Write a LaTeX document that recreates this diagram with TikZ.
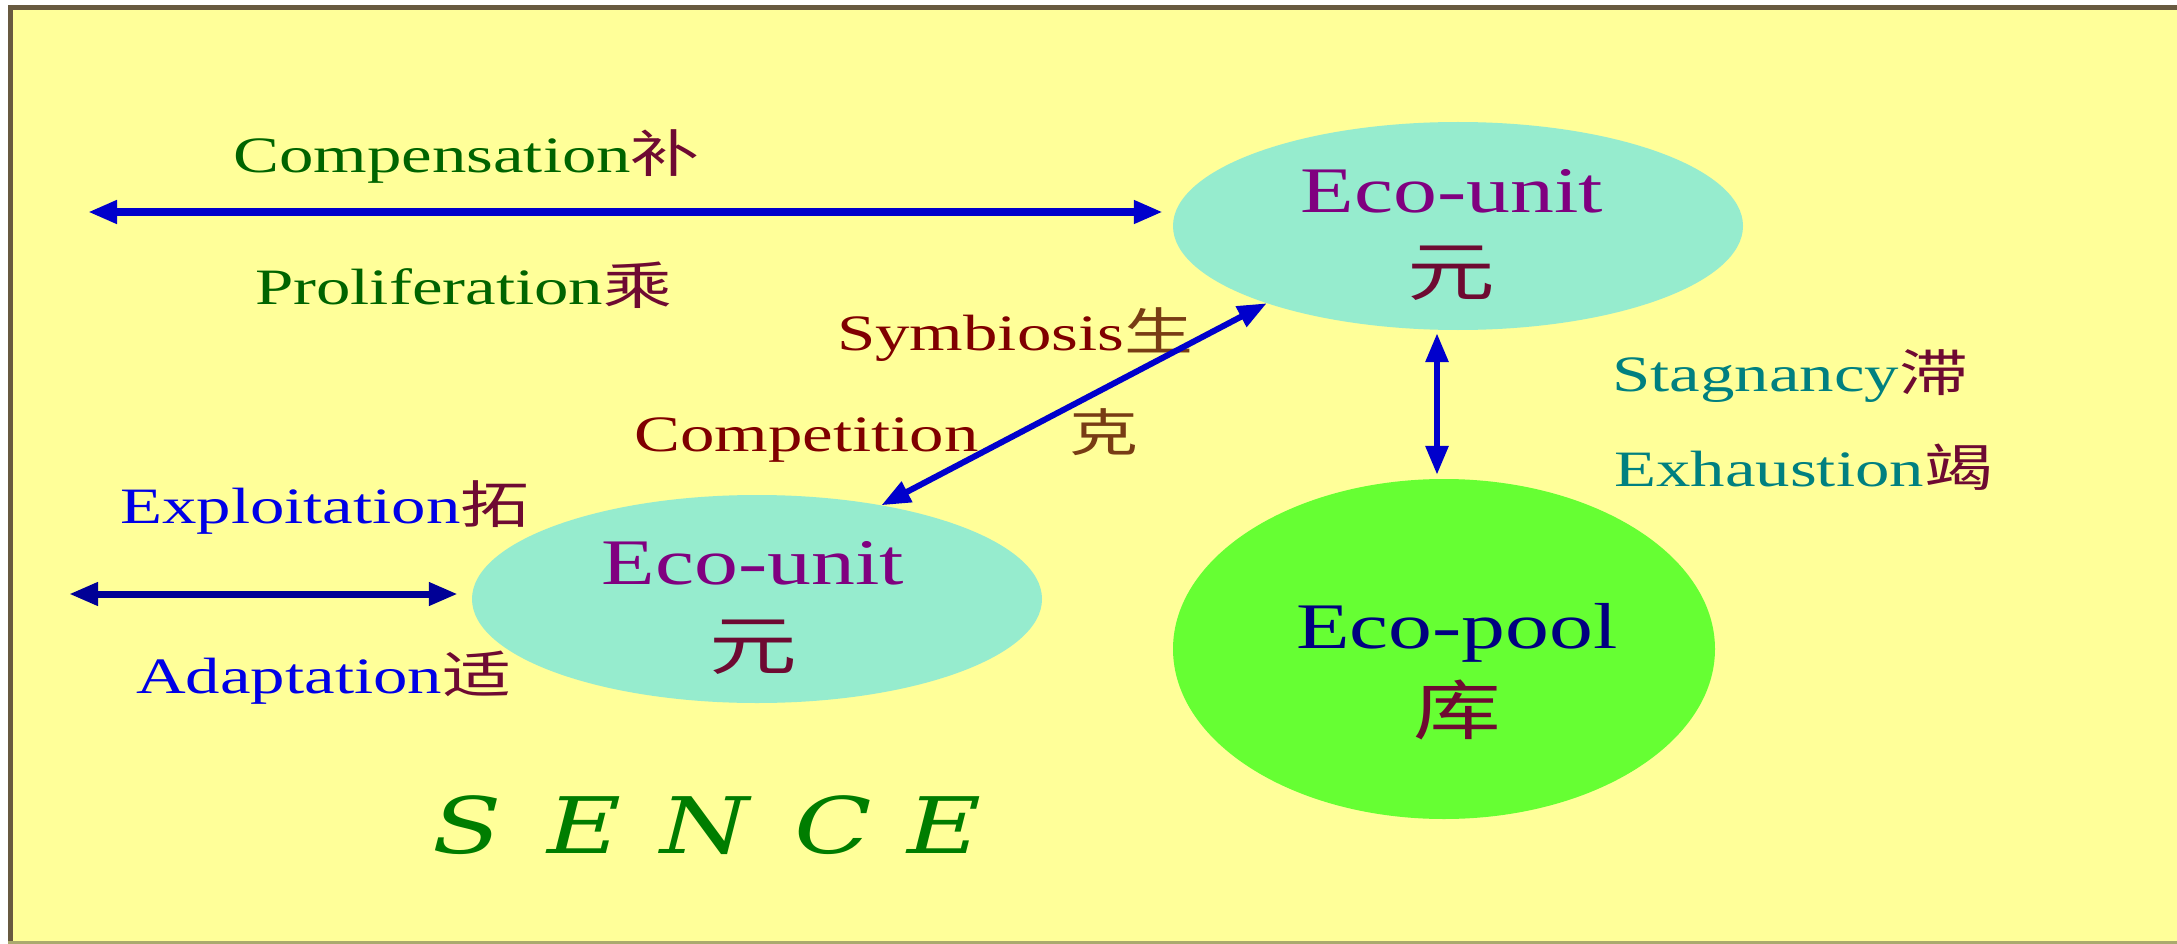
\documentclass[tikz,border=0pt]{standalone}
\usepackage{fontspec}
\setmainfont{Liberation Serif}[FakeStretch=1.35]
\newfontfamily\cjk{Noto Sans CJK SC}[FakeStretch=1.35]
\newfontfamily\sencefont{DejaVu Serif}[FakeStretch=1.3]
\usetikzlibrary{arrows.meta,shapes.geometric}
\definecolor{bgyellow}{RGB}{255,255,153}
\definecolor{framebrown}{RGB}{104,90,64}
\definecolor{frameolive}{RGB}{170,170,110}
\definecolor{unitfill}{RGB}{150,236,206}
\definecolor{poolfill}{RGB}{102,255,51}
\definecolor{arrowblue}{RGB}{0,0,204}
\definecolor{arrownavy}{RGB}{0,0,150}
\definecolor{labgreen}{RGB}{0,100,0}
\definecolor{cjkred}{RGB}{110,10,50}
\definecolor{cjkbrown}{RGB}{120,60,20}
\definecolor{unitpurple}{RGB}{128,0,128}
\definecolor{symred}{RGB}{128,0,0}
\definecolor{tealtext}{RGB}{0,128,128}
\definecolor{exblue}{RGB}{0,0,230}
\definecolor{poolnavy}{RGB}{0,0,128}
\definecolor{sencegreen}{RGB}{0,125,0}
\newcommand\hanzi[2][cjkred]{{\cjk\color{#1}#2}}
\tikzset{
  lab/.style={font=\fontsize{51}{60}\selectfont, inner sep=0pt, anchor=base west},
  big/.style={font=\fontsize{65}{75}\selectfont, inner sep=0pt, anchor=base},
  bigzh/.style={font=\cjk\fontsize{65}{75}\selectfont, inner sep=0pt, text=cjkred},
  unit/.style={ellipse, fill=unitfill, minimum width=570pt, minimum height=208pt, inner sep=0pt},
  poolshape/.style={ellipse, fill=poolfill, minimum width=542pt, minimum height=340pt, inner sep=0pt},
  arr/.style={line width=7pt, color=arrowblue, {Triangle[length=29pt,width=22pt]}-{Triangle[length=29pt,width=22pt]}},
  senceletter/.style={font=\sencefont\itshape\fontsize{78}{90}\selectfont, text=sencegreen, inner sep=0pt, anchor=base west}
}
\begin{document}
\begin{tikzpicture}[x=1pt,y=-1pt]
\useasboundingbox (0,0) rectangle (2177,944);
% background and frame
\fill[white] (0,0) rectangle (2177,944);
\fill[bgyellow] (8,5) rectangle (2177,944);
\draw[framebrown, line width=5pt] (10.5,944) -- (10.5,7.5) -- (2177,7.5);
\draw[frameolive, line width=3pt] (8,942.5) -- (2177,942.5);
% shapes
\node[unit] (top) at (1458,226) {};
\node[unit] (low) at (757,599) {};
\node[poolshape] (pool) at (1444,649) {};
% shape texts
\node[big, text=unitpurple] (toplab) at (1452,213) {Eco-unit};
\node[bigzh] (topzh) at (1451,273) {元};
\node[big, text=unitpurple] (lowlab) at (753,584) {Eco-unit};
\node[bigzh] (lowzh) at (753,647) {元};
\node[big, text=poolnavy] (poollab) at (1457,648) {Eco-pool};
\node[bigzh] (poolzh) at (1457,710) {库};
% labels
\node[lab, text=labgreen] (comp) at (233,173) {Compensation\hanzi{补}};
\node[lab, text=labgreen] (prol) at (255,304) {Proliferation\hanzi{乘}};
\node[lab, text=symred] (symb) at (837,350) {Symbiosis\hanzi[cjkbrown]{生}};
\node[lab, text=symred] (compet) at (634,451) {Competition};
\node[lab] (ke) at (1069,451) {\hanzi[cjkbrown]{克}};
\node[lab, text=tealtext] (stag) at (1612,391) {Stagnancy\hanzi{滞}};
\node[lab, text=tealtext] (exh) at (1614,486) {Exhaustion\hanzi{竭}};
\node[lab, text=exblue] (expl) at (120,523) {Exploitation\hanzi{拓}};
\node[lab, text=exblue] (adap) at (136,693) {Adaptation\hanzi{适}};
% SENCE
\node[senceletter] (s1) at (432,853) {S};
\node[senceletter] (s2) at (547,853) {E};
\node[senceletter] (s3) at (660,853) {N};
\node[senceletter] (s4) at (794,853) {C};
\node[senceletter] (s5) at (907,853) {E};
% connectors
\coordinate (a1) at (88,212);
\coordinate (a2) at (69,594);
\coordinate (vbot) at ([xshift=-7pt]pool.north);
\draw[arr, line width=8pt, shorten >=10pt] (a1) -- (top.west |- a1);
\draw[arr, color=arrownavy, shorten >=14pt] (a2) -- (low.west |- a2);
\draw[arr, line width=6pt] (low.37) -- (top.202);
\draw[arr, line width=6pt, shorten <=3pt, shorten >=4pt] (vbot |- top.south) -- (vbot);
\end{tikzpicture}
\end{document}
